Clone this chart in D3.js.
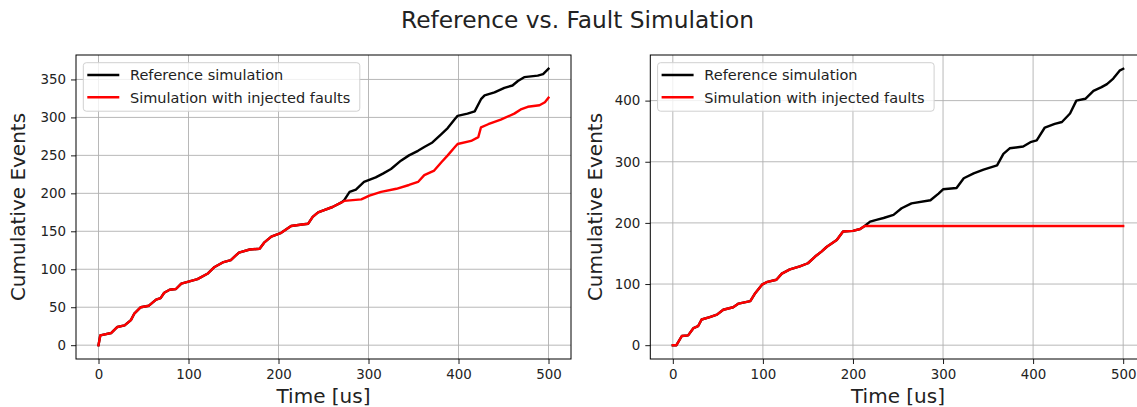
<!DOCTYPE html>
<html>
<head>
<meta charset="utf-8">
<script src="https://cdn.jsdelivr.net/npm/d3@7"></script>
<style>
  html, body { margin: 0; padding: 0; background: #fff; }
  svg { display: block; font-family: "DejaVu Sans", sans-serif; }
</style>
</head>
<body>
<svg id="fig" width="1137" height="407"></svg>
<script>
// ---- Data: cumulative event counts over time (us) ----
// Left run: both simulations agree until ~270 us, then the faulty one lags behind.
const leftCommonTime   = [0, 2, 14, 21, 29, 36, 40, 47, 56, 64, 69, 73, 79, 86, 92, 101, 110, 121, 129, 138, 147, 156, 168, 179, 184, 192, 203, 214, 226, 233, 238, 244, 260, 270];
const leftCommonEvents = [0, 13, 16, 24, 26, 33, 42, 50, 52, 60, 62, 69, 73, 74, 81, 84, 87, 94, 103, 109, 112, 122, 126, 127, 135, 143, 148, 157, 159, 160, 169, 175, 182, 188];

const leftRefTailTime   = [273, 279, 286, 295, 308, 316, 325, 336, 345, 355, 362, 371, 381, 388, 396, 399, 410, 418, 425, 429, 440, 451, 460, 466, 473, 488, 494, 500];
const leftRefTailEvents = [191, 202, 205, 215, 221, 226, 232, 243, 250, 256, 261, 267, 278, 286, 298, 302, 305, 308, 324, 329, 333, 339, 342, 348, 353, 355, 357, 364];

const leftFaultTailTime   = [273, 292, 301, 314, 331, 345, 355, 362, 373, 381, 388, 396, 399, 414, 422, 425, 433, 447, 462, 470, 477, 490, 496, 500];
const leftFaultTailEvents = [190, 192, 197, 202, 206, 211, 215, 224, 230, 241, 250, 261, 265, 269, 274, 287, 291, 297, 305, 311, 314, 316, 320, 326];

// Right run: the faulty simulation stops producing events after ~213 us.
const rightCommonTime   = [0, 4, 10, 17, 23, 28, 32, 41, 49, 56, 67, 73, 86, 91, 99, 104, 115, 121, 130, 141, 150, 158, 165, 171, 182, 189, 200, 208, 213];
const rightCommonEvents = [0, 0, 15, 16, 28, 31, 42, 46, 50, 58, 62, 68, 72, 84, 99, 103, 107, 117, 124, 129, 134, 145, 153, 161, 172, 186, 187, 190, 195];

const rightRefTailTime   = [219, 226, 234, 245, 254, 265, 286, 295, 300, 315, 323, 334, 345, 360, 367, 374, 389, 397, 404, 413, 424, 432, 441, 448, 458, 467, 476, 482, 489, 496, 500];
const rightRefTailEvents = [202, 205, 208, 213, 224, 232, 237, 248, 255, 257, 273, 281, 287, 294, 313, 322, 325, 332, 335, 356, 362, 365, 379, 400, 403, 416, 422, 427, 436, 449, 452];

const rightFaultTailTime   = [500];
const rightFaultTailEvents = [195];

// ---- Labels and ticks ----
const figureTitle = "Reference vs. Fault Simulation";
const xLabel = "Time [us]";
const yLabel = "Cumulative Events";
const seriesNames = ["Reference simulation", "Simulation with injected faults"];
const seriesColors = ["#000000", "#ff0000"];
const xTicks = [0, 100, 200, 300, 400, 500];
const leftYTicks = [0, 50, 100, 150, 200, 250, 300, 350];
const rightYTicks = [0, 100, 200, 300, 400];

const zipSeries = (t, v) => t.map((d, i) => ({ t: d, v: v[i] }));

const panels = [
  {
    left: 76, right: 571,
    yTicks: leftYTicks,
    labelX: 25,
    series: [
      zipSeries(leftCommonTime.concat(leftRefTailTime), leftCommonEvents.concat(leftRefTailEvents)),
      zipSeries(leftCommonTime.concat(leftFaultTailTime), leftCommonEvents.concat(leftFaultTailEvents))
    ]
  },
  {
    left: 650.3, right: 1145.7,
    yTicks: rightYTicks,
    labelX: 601.5,
    series: [
      zipSeries(rightCommonTime.concat(rightRefTailTime), rightCommonEvents.concat(rightRefTailEvents)),
      zipSeries(rightCommonTime.concat(rightFaultTailTime), rightCommonEvents.concat(rightFaultTailEvents))
    ]
  }
];

const plotTop = 55, plotBottom = 359;
const svg = d3.select("#fig");
const textColor = "#222";

// Figure title
svg.append("text")
  .attr("x", 577.5).attr("y", 28)
  .attr("text-anchor", "middle")
  .attr("font-size", 23.3)
  .attr("fill", textColor)
  .text(figureTitle);

// Pad a [min, max] extent by 5% on each side
function padded(lo, hi) {
  const p = (hi - lo) * 0.05;
  return [lo - p, hi + p];
}

panels.forEach(panel => {
  const allT = panel.series.flat().map(d => d.t);
  const allV = panel.series.flat().map(d => d.v);
  const x = d3.scaleLinear().domain(padded(d3.min(allT), d3.max(allT))).range([panel.left, panel.right]);
  const y = d3.scaleLinear().domain(padded(d3.min(allV), d3.max(allV))).range([plotBottom, plotTop]);

  const g = svg.append("g");

  // grid
  g.append("g").selectAll("line").data(xTicks).join("line")
    .attr("x1", d => x(d)).attr("x2", d => x(d))
    .attr("y1", plotTop).attr("y2", plotBottom)
    .attr("stroke", "#b0b0b0").attr("stroke-width", 0.9);
  g.append("g").selectAll("line").data(panel.yTicks).join("line")
    .attr("x1", panel.left).attr("x2", panel.right)
    .attr("y1", d => y(d)).attr("y2", d => y(d))
    .attr("stroke", "#b0b0b0").attr("stroke-width", 0.9);

  // series lines
  const line = d3.line().x(d => x(d.t)).y(d => y(d.v)).curve(d3.curveLinear);
  panel.series.forEach((s, i) => {
    g.append("path")
      .datum(s)
      .attr("d", line)
      .attr("fill", "none")
      .attr("stroke", seriesColors[i])
      .attr("stroke-width", 2.4)
      .attr("stroke-linejoin", "round")
      .attr("stroke-linecap", "square");
  });

  // axes
  const xAxis = d3.axisBottom(x).tickValues(xTicks).tickSize(5).tickPadding(4).tickFormat(d3.format("d"));
  const yAxis = d3.axisLeft(y).tickValues(panel.yTicks).tickSize(5).tickPadding(5).tickFormat(d3.format("d"));

  const gx = g.append("g").attr("transform", `translate(0,${plotBottom})`).call(xAxis);
  const gy = g.append("g").attr("transform", `translate(${panel.left},0)`).call(yAxis);
  [gx, gy].forEach(a => {
    a.select(".domain").remove();
    a.selectAll(".tick line").attr("stroke", "#000").attr("stroke-width", 0.9);
    a.selectAll(".tick text").attr("font-size", 13.4).attr("fill", textColor)
      .attr("font-family", "DejaVu Sans, sans-serif");
  });
  gx.selectAll(".tick text").attr("dy", "0.85em");

  // frame
  g.append("rect")
    .attr("x", panel.left).attr("y", plotTop)
    .attr("width", panel.right - panel.left).attr("height", plotBottom - plotTop)
    .attr("fill", "none").attr("stroke", "#000").attr("stroke-width", 1);

  // axis labels
  g.append("text")
    .attr("x", (panel.left + panel.right) / 2).attr("y", 403)
    .attr("text-anchor", "middle").attr("font-size", 20).attr("fill", textColor)
    .text(xLabel);
  g.append("text")
    .attr("transform", `translate(${panel.labelX},${(plotTop + plotBottom) / 2}) rotate(-90)`)
    .attr("text-anchor", "middle").attr("font-size", 20).attr("fill", textColor)
    .text(yLabel);

  // legend
  const lx = panel.left + 7.3, ly = 62.7;
  const leg = g.append("g");
  leg.append("rect")
    .attr("x", lx).attr("y", ly).attr("width", 276.5).attr("height", 48.5)
    .attr("rx", 3).attr("fill", "#fff").attr("fill-opacity", 0.8)
    .attr("stroke", "#d0d0d0").attr("stroke-width", 1);
  seriesNames.forEach((name, i) => {
    const yy = 75 + i * 22.3;
    leg.append("line")
      .attr("x1", lx + 4).attr("x2", lx + 36)
      .attr("y1", yy).attr("y2", yy)
      .attr("stroke", seriesColors[i]).attr("stroke-width", 2.4);
    leg.append("text")
      .attr("x", lx + 46.7).attr("y", yy).attr("dy", "0.36em")
      .attr("font-size", 14.5).attr("fill", textColor)
      .text(name);
  });
});
</script>
</body>
</html>
